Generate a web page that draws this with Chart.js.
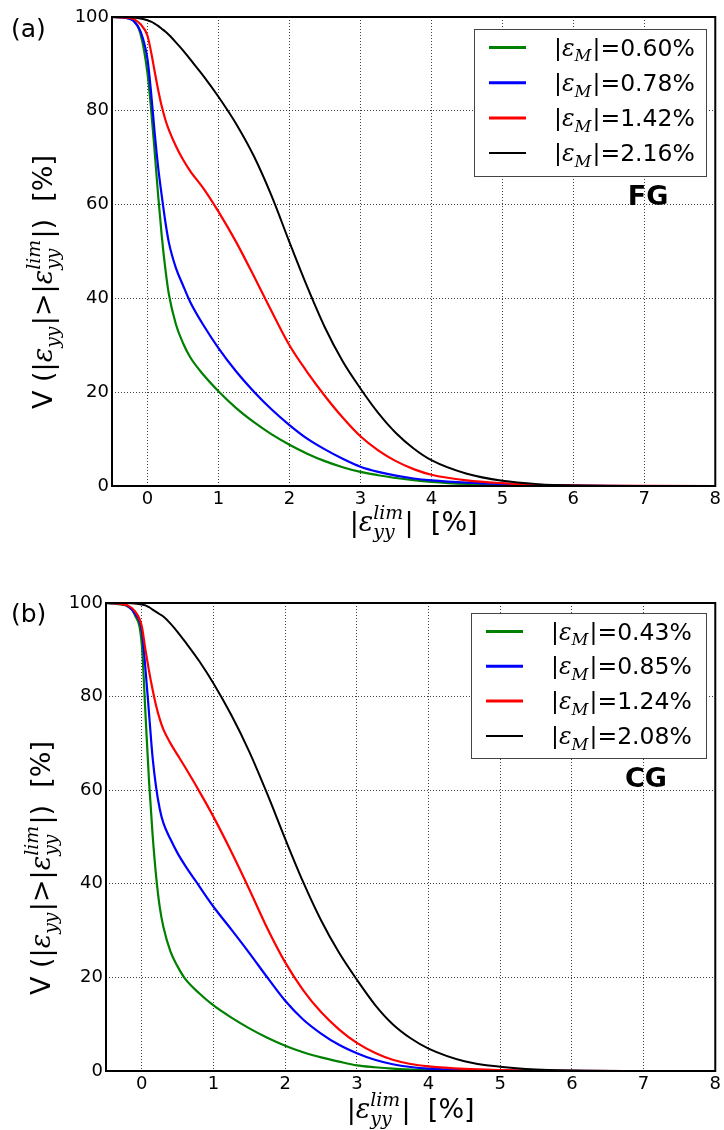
<!DOCTYPE html>
<html>
<head>
<meta charset="utf-8">
<script src="https://cdn.jsdelivr.net/npm/chart.js@4.4.1/dist/chart.umd.min.js"></script>
<style>
  html, body { margin: 0; padding: 0; background: #fff; }
  #wrap { position: relative; width: 724px; height: 1130px; }
  canvas { position: absolute; left: 0; }
  #chartA { top: 0; }
  #chartB { top: 560px; }
</style>
</head>
<body>
<div id="wrap">
  <canvas id="chartA" width="724" height="560"></canvas>
  <canvas id="chartB" width="724" height="570"></canvas>
</div>
<script>
// |eps_yy^lim| values [%] shared by every curve
const strainLim = [-0.5, -0.3, -0.2, -0.1, 0, 0.05, 0.1, 0.15, 0.2, 0.25, 0.3, 0.4, 0.5, 0.6, 0.8, 1.0,
    1.25, 1.5, 1.75, 2.0, 2.25, 2.5, 2.75, 3.0, 3.25, 3.5, 3.75, 4.0, 4.5, 5.0, 5.5, 6.0, 7.0, 8.0]
const xTicks = [0, 1, 2, 3, 4, 5, 6, 7, 8]
const yTicks = [0, 20, 40, 60, 80, 100]
const seriesColors = ['#008000', '#0000ff', '#ff0000', '#000000']

// (a) FG
const fgLabels = ['0.60%', '0.78%', '1.42%', '2.16%']
const fgGreen = [100, 99.8, 99.3, 96.5, 88, 80.5, 71.5, 62, 53.5, 46.5, 41, 34.5, 30.5, 27.5, 23.5, 20.2,
    16.6, 13.6, 11.0, 8.8, 6.9, 5.3, 4.0, 3.0, 2.3, 1.7, 1.25, 0.9, 0.45, 0.2, 0.08, 0.03, 0, 0]
const fgBlue = [100, 99.8, 99.2, 97, 91, 84, 75.5, 68, 62, 56.5, 52, 46.5, 42.8, 39.3, 34, 29.4,
    24.4, 20.1, 16.3, 13.0, 10.1, 7.8, 5.8, 4.1, 3.0, 2.2, 1.6, 1.2, 0.7, 0.4, 0.2, 0.08, 0, 0]
const fgRed = [100, 99.9, 99.6, 98.5, 96, 92.6, 88.5, 84.5, 81, 78.2, 76, 72.5, 69.6, 67.2, 63.2, 58.5,
    52, 44.7, 37.2, 30, 24.3, 19.2, 14.6, 10.6, 7.6, 5.3, 3.6, 2.4, 1.2, 0.6, 0.25, 0.1, 0.02, 0]
const fgBlack = [100, 100, 99.9, 99.7, 99.3, 99.0, 98.6, 98.1, 97.5, 96.9, 96.2, 94.6, 92.9, 91, 87.2, 83,
    77.2, 70.3, 61.8, 52, 42.5, 33.8, 26.6, 20.8, 15.6, 11.3, 8.0, 5.5, 2.6, 1.1, 0.4, 0.12, 0.01, 0]

// (b) CG
const cgLabels = ['0.43%', '0.85%', '1.24%', '2.08%']
const cgGreen = [100, 99.7, 99.3, 97.5, 91, 76.5, 62, 50.5, 41.5, 35, 30.8, 25.5, 22.3, 19.8, 16.6, 14.0,
    11.4, 9.1, 7.1, 5.4, 4.0, 2.9, 2.0, 1.2, 0.8, 0.5, 0.32, 0.2, 0.08, 0.03, 0.01, 0, 0, 0]
const cgBlue = [100, 99.8, 99.4, 97.8, 94, 86, 76.5, 67, 60.5, 56, 53, 49.5, 46.5, 44, 39.5, 35.1,
    30.2, 25.2, 20.0, 15.0, 11.0, 8.0, 5.6, 3.8, 2.4, 1.45, 0.85, 0.5, 0.2, 0.08, 0.03, 0.01, 0, 0]
const cgRed = [100, 99.8, 99.5, 98.3, 95, 90, 85.5, 81.5, 78, 75.2, 73, 70, 67.5, 65, 59.8, 54.3,
    46.8, 38.8, 30.5, 23.2, 17.3, 12.6, 8.9, 6.0, 3.9, 2.4, 1.5, 1.0, 0.45, 0.2, 0.08, 0.03, 0, 0]
const cgBlack = [100, 100, 100, 99.9, 99.7, 99.5, 99.1, 98.6, 98.1, 97.6, 97.1, 95.6, 93.8, 91.8, 87.6, 82.8,
    76, 68.2, 59.2, 49.6, 40.4, 32.2, 25.3, 19.5, 14.2, 10.0, 7.0, 4.8, 2.1, 0.9, 0.3, 0.1, 0.01, 0]

const SANS = 'DejaVu Sans'
const SERIF = 'DejaVu Serif'

// tiny mathtext: parts are {t, it, sub, sup}
function mathLayout(ctx, parts, size) {
    const small = size * 0.7
    let w = 0
    const items = []
    parts.forEach(p => {
        const font = p.it ? `italic ${size}px "${SERIF}"` : `${size}px "${SANS}"`
        ctx.font = font
        const mw = ctx.measureText(p.t).width
        items.push({ t: p.t, font, dx: w, dy: 0 })
        w += mw
        if (p.sub || p.sup) {
            const sfont = `italic ${small}px "${SERIF}"`
            ctx.font = sfont
            let sw = 0
            if (p.sub) {
                items.push({ t: p.sub, font: sfont, dx: w, dy: size * 0.25 })
                sw = ctx.measureText(p.sub).width
            }
            if (p.sup) {
                items.push({ t: p.sup, font: sfont, dx: w, dy: -size * 0.45 })
                sw = Math.max(sw, ctx.measureText(p.sup).width)
            }
            w += sw + size * 0.05
        }
    })
    return { items, width: w }
}

function drawMath(ctx, parts, x, y, size, align) {
    const lay = mathLayout(ctx, parts, size)
    const x0 = align === 'center' ? x - lay.width / 2 : x
    ctx.textBaseline = 'alphabetic'
    ctx.textAlign = 'left'
    ctx.fillStyle = '#000'
    lay.items.forEach(it => {
        ctx.font = it.font
        ctx.fillText(it.t, x0 + it.dx, y + it.dy)
    })
}

const yTitle = [{ t: 'V (|' }, { t: 'ε', it: true, sub: 'yy' }, { t: '|>|' },
    { t: 'ε', it: true, sub: 'yy', sup: 'lim' }, { t: '|)  [%]' }]
const xTitle = [{ t: '|' }, { t: 'ε', it: true, sub: 'yy', sup: 'lim' }, { t: '|  [%]' }]

const decorPlugin = {
    id: 'decor',
    afterDatasetsDraw(chart, args, opts) {
        const { ctx, chartArea: a } = chart
        ctx.save()
        // frame
        ctx.strokeStyle = '#000'
        ctx.lineWidth = 2
        ctx.strokeRect(a.left, a.top, a.right - a.left, a.bottom - a.top)

        // legend box
        const b = opts.box
        ctx.fillStyle = '#fff'
        ctx.fillRect(b.x, b.y, b.w, b.h)
        ctx.strokeStyle = '#444'
        ctx.lineWidth = 1
        ctx.strokeRect(b.x + 0.5, b.y + 0.5, b.w, b.h)
        opts.labels.forEach((lab, i) => {
            const cy = b.y + 18.5 + i * b.step
            ctx.strokeStyle = seriesColors[i]
            ctx.lineWidth = i === 3 ? 2 : 3
            ctx.beginPath()
            ctx.moveTo(b.x + 15, cy)
            ctx.lineTo(b.x + 52, cy)
            ctx.stroke()
            drawMath(ctx, [{ t: '|' }, { t: 'ε', it: true, sub: 'M' }, { t: '|=' + lab }],
                b.x + 80, cy + 8, 23.5, 'left')
        })

        // tag (FG / CG)
        ctx.font = `bold 27px "${SANS}"`
        ctx.fillStyle = '#000'
        ctx.textAlign = 'center'
        ctx.textBaseline = 'middle'
        ctx.fillText(opts.tag, opts.tagPos[0], opts.tagPos[1])
        ctx.restore()
    },
    afterDraw(chart, args, opts) {
        const { ctx, chartArea: a } = chart
        ctx.save()
        // panel letter
        ctx.font = `25px "${SANS}"`
        ctx.fillStyle = '#000'
        ctx.textAlign = 'left'
        ctx.textBaseline = 'middle'
        ctx.fillText(opts.letter, 11, opts.letterY)

        // x title
        drawMath(ctx, xTitle, (a.left + a.right) / 2, opts.xTitleY, 27, 'center')

        // y title, rotated
        ctx.translate(opts.yTitleX, opts.yTitleY)
        ctx.rotate(-Math.PI / 2)
        drawMath(ctx, yTitle, 0, 0, 27, 'center')
        ctx.restore()
    }
}

function makePanel(id, series, labels, cfg) {
    const datasets = series.map((vals, i) => ({
        label: labels[i],
        data: strainLim.map((x, k) => ({ x, y: vals[k] })),
        borderColor: seriesColors[i],
        borderWidth: i === 3 ? 2 : 2.2,
        pointRadius: 0,
        fill: false,
        cubicInterpolationMode: 'monotone',
        order: 3 - i,
    }))
    const tickFont = { family: SANS, size: 18 }
    return new Chart(document.getElementById(id), {
        type: 'line',
        data: { datasets },
        plugins: [decorPlugin],
        options: {
            responsive: false,
            animation: false,
            events: [],
            layout: { padding: { top: cfg.top, right: cfg.right, left: 0, bottom: 0 } },
            plugins: {
                legend: { display: false },
                tooltip: { enabled: false },
                decor: cfg.decor,
            },
            scales: {
                x: {
                    type: 'linear',
                    min: -0.5,
                    max: 8,
                    afterBuildTicks: s => { s.ticks = xTicks.map(v => ({ value: v })) },
                    afterFit: s => { s.height = cfg.xAxisH },
                    ticks: { font: tickFont, color: '#000', padding: 3, maxRotation: 0 },
                    grid: { color: 'rgba(0,0,0,0.75)', lineWidth: 1, drawTicks: false },
                    border: { display: false, dash: [1, 2] },
                },
                y: {
                    type: 'linear',
                    min: 0,
                    max: 100,
                    afterBuildTicks: s => { s.ticks = yTicks.map(v => ({ value: v })) },
                    afterFit: s => { s.width = cfg.yAxisW },
                    ticks: { font: tickFont, color: '#000', padding: 3 },
                    grid: { color: 'rgba(0,0,0,0.75)', lineWidth: 1, drawTicks: false },
                    border: { display: false, dash: [1, 2] },
                },
            },
        },
    })
}

makePanel('chartA', [fgGreen, fgBlue, fgRed, fgBlack], fgLabels, {
    top: 17, right: 4, xAxisH: 74, yAxisW: 112,
    decor: {
        labels: fgLabels, tag: 'FG', tagPos: [648, 198],
        box: { x: 474, y: 29, w: 232, h: 147, step: 35.2 },
        letter: '(a)', letterY: 30, xTitleY: 531, yTitleX: 52, yTitleY: 282,
    },
})

makePanel('chartB', [cgGreen, cgBlue, cgRed, cgBlack], cgLabels, {
    top: 43, right: 6, xAxisH: 59, yAxisW: 106,
    decor: {
        labels: cgLabels, tag: 'CG', tagPos: [646, 220],
        box: { x: 471, y: 53, w: 235, h: 145, step: 34.8 },
        letter: '(b)', letterY: 55, xTitleY: 558, yTitleX: 50, yTitleY: 308,
    },
})
</script>
</body>
</html>
